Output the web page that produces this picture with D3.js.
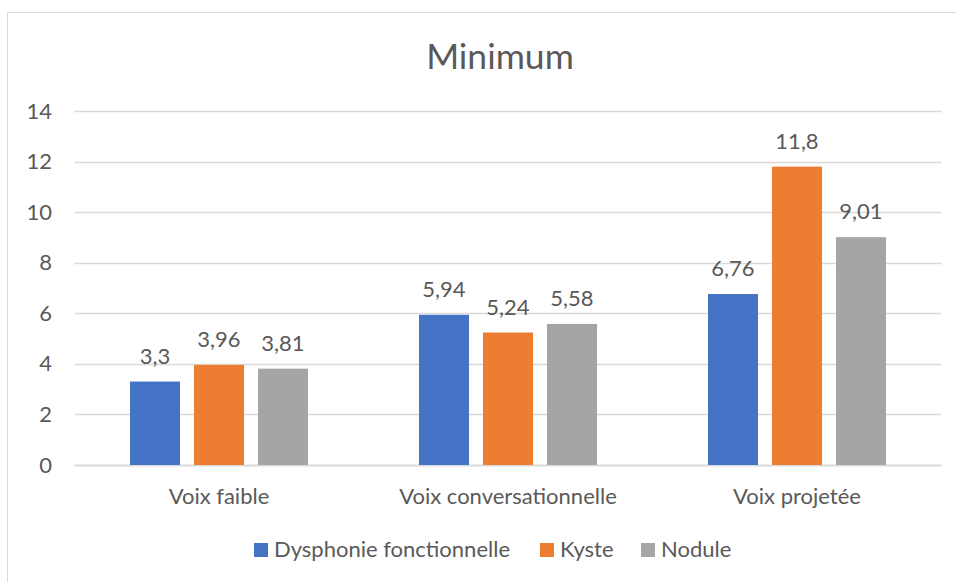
<!DOCTYPE html>
<html lang="fr">
<head>
    <meta charset="UTF-8">
    <title>Minimum</title>
    <script src="https://d3js.org/d3.v7.js"></script>
    <style>
        body { margin: 0; background: #fff; }
        text { font-family: Lato, "Open Sans", sans-serif; fill: #595959; }
    </style>
</head>
<body>
<svg></svg>
<script>
    const categories = ["Voix faible", "Voix conversationnelle", "Voix projetée"];
    const series = ["Dysphonie fonctionnelle", "Kyste", "Nodule"];
    const dysphonie = [3.3, 5.94, 6.76];
    const kyste = [3.96, 5.24, 11.8];
    const nodule = [3.81, 5.58, 9.01];
    const yTicks = [0, 2, 4, 6, 8, 10, 12, 14];
    const colors = ["#4472c4", "#ed7d31", "#a5a5a5"];

    const width = 956, height = 582;
    const svg = d3.select("svg").attr("width", width).attr("height", height);

    // frame (only left/top edges are visible in the picture)
    svg.append("rect")
        .attr("x", 7.5).attr("y", 12.5)
        .attr("width", 960).attr("height", 600)
        .attr("fill", "none").attr("stroke", "#d9d9d9");

    svg.append("text")
        .attr("x", 500).attr("y", 69)
        .attr("text-anchor", "middle")
        .style("font-size", "35.5px")
        .text("Minimum");

    const rows = categories.map((c, i) => ({
        cat: c,
        vals: [dysphonie[i], kyste[i], nodule[i]]
    }));

    const x0 = d3.scaleBand().domain(categories).range([74.5, 941.5]);
    const x1 = d3.scaleBand().domain(series).range([0, x0.bandwidth()])
        .paddingInner(14 / 64).paddingOuter(0.867);
    const y = d3.scaleLinear().domain([0, 14]).range([465, 111]);

    // gridlines
    svg.append("g").selectAll("line")
        .data(yTicks)
        .join("line")
        .attr("x1", 74.5).attr("x2", 941.5)
        .attr("y1", d => Math.round(y(d)) + 0.5)
        .attr("y2", d => Math.round(y(d)) + 0.5)
        .attr("stroke", "#d9d9d9")
        .attr("stroke-width", d => d === 0 ? 2 : 1.5);

    // y labels
    svg.append("g").selectAll("text")
        .data(yTicks)
        .join("text")
        .attr("x", 52)
        .attr("y", d => y(d) + 7.5)
        .attr("text-anchor", "end")
        .style("font-size", "22px")
        .text(d => d);

    // bars
    const groups = svg.append("g").selectAll("g")
        .data(rows)
        .join("g")
        .attr("transform", d => `translate(${x0(d.cat)},0)`);

    groups.selectAll("rect")
        .data(d => d.vals.map((v, i) => ({ s: series[i], v: v, i: i })))
        .join("rect")
        .attr("x", d => x1(d.s))
        .attr("y", d => y(d.v))
        .attr("width", x1.bandwidth())
        .attr("height", d => y(0) - y(d.v))
        .attr("fill", d => colors[d.i]);

    groups.selectAll("text")
        .data(d => d.vals.map((v, i) => ({ s: series[i], v: v })))
        .join("text")
        .attr("x", d => x1(d.s) + x1.bandwidth() / 2)
        .attr("y", d => y(d.v) - 18)
        .attr("text-anchor", "middle")
        .style("font-size", "22px")
        .text(d => String(d.v).replace(".", ","));

    // category labels
    svg.append("g").selectAll("text")
        .data(categories)
        .join("text")
        .attr("x", d => x0(d) + x0.bandwidth() / 2)
        .attr("y", 504)
        .attr("text-anchor", "middle")
        .style("font-size", "22px")
        .text(d => d);

    // legend
    const legendX = [254, 540, 641];
    const legend = svg.append("g").selectAll("g")
        .data(series)
        .join("g")
        .attr("transform", (d, i) => `translate(${legendX[i]},543)`);
    legend.append("rect")
        .attr("width", 14).attr("height", 14)
        .attr("fill", (d, i) => colors[i]);
    legend.append("text")
        .attr("x", 20).attr("y", 14)
        .style("font-size", "22px")
        .text(d => d);
</script>
</body>
</html>
